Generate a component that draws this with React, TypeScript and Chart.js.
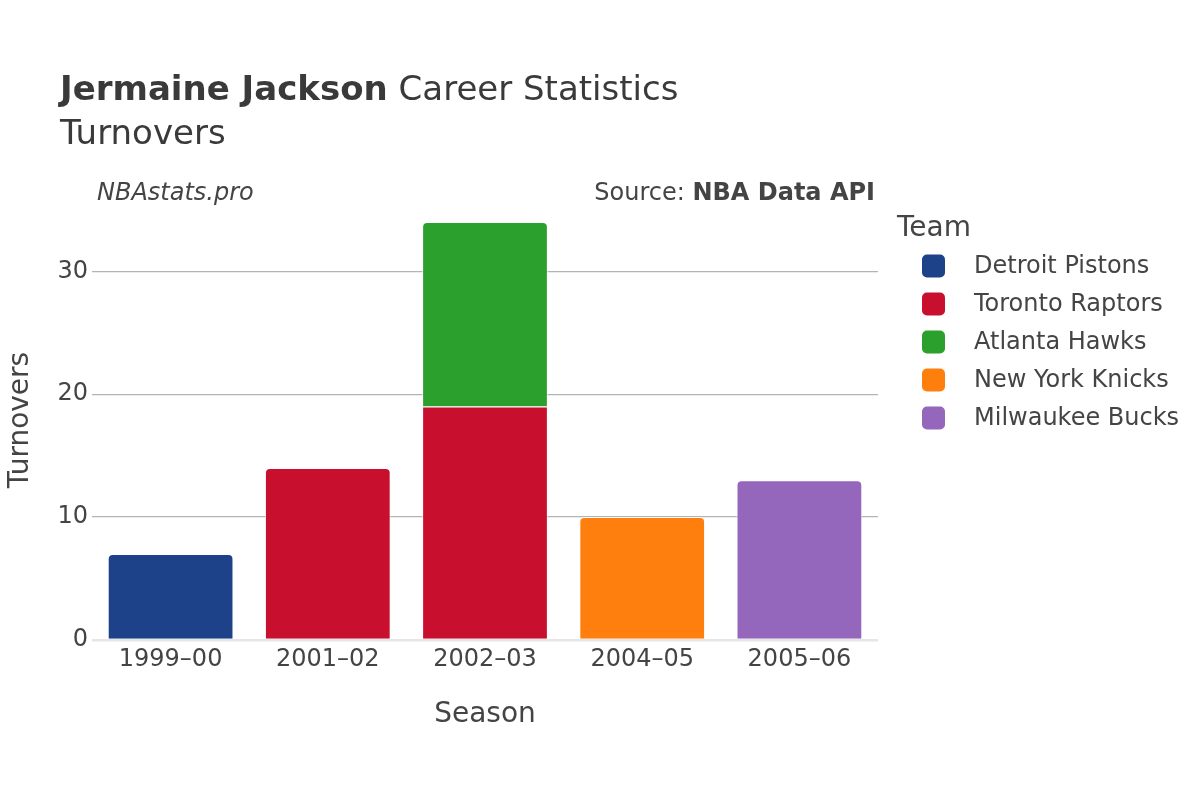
import React, { useEffect, useRef } from "react";
import { Chart, registerables } from "chart.js";

Chart.register(...registerables);

const seasons = ["1999–00", "2001–02", "2002–03", "2004–05", "2005–06"];
const teams = ["Detroit Pistons", "Toronto Raptors", "Atlanta Hawks", "New York Knicks", "Milwaukee Bucks"];
const teamColors = ["#1d428a", "#c8102e", "#2ca02c", "#ff7f0e", "#9467bd"];
const detroitPistons = [7, null, null, null, null];
const torontoRaptors = [null, 14, 19, null, null];
const atlantaHawks = [null, null, 15, null, null];
const newYorkKnicks = [null, null, null, 10, null];
const milwaukeeBucks = [null, null, null, null, 13];
const seriesValues = [detroitPistons, torontoRaptors, atlantaHawks, newYorkKnicks, milwaukeeBucks];
const yTicks = [0, 10, 20, 30];
const yMax = 35.8;

const FONT = "'DejaVu Sans', Verdana, sans-serif";
const TEXT = "#444";

const overlayPlugin = {
  id: "overlay",
  afterDraw(chart: any) {
    const ctx = chart.ctx as CanvasRenderingContext2D;
    const area = chart.chartArea;
    ctx.save();
    ctx.textBaseline = "alphabetic";
    // Title
    ctx.fillStyle = "#3a3a3a";
    ctx.textAlign = "left";
    ctx.font = `bold 34px ${FONT}`;
    const bold = "Jermaine Jackson";
    ctx.fillText(bold, 60, 100);
    const bw = ctx.measureText(bold).width;
    ctx.font = `34px ${FONT}`;
    ctx.fillText(" Career Statistics", 60 + bw, 100);
    ctx.font = `34px ${FONT}`;
    ctx.fillText("Turnovers", 60, 144);
    // Watermark / source
    ctx.fillStyle = TEXT;
    ctx.font = `italic 24px ${FONT}`;
    ctx.fillText("NBAstats.pro", 97, 200);
    ctx.textAlign = "right";
    ctx.font = `bold 24px ${FONT}`;
    const src = "NBA Data API";
    ctx.fillText(src, 875, 200);
    const sw = ctx.measureText(src).width;
    ctx.font = `24px ${FONT}`;
    ctx.fillText("Source: ", 875 - sw, 200);
    // Axis titles
    ctx.textAlign = "center";
    ctx.font = `28px ${FONT}`;
    ctx.fillText("Season", (area.left + area.right) / 2, 722);
    ctx.save();
    ctx.translate(28, (area.top + area.bottom) / 2);
    ctx.rotate(-Math.PI / 2);
    ctx.fillText("Turnovers", 0, 0);
    ctx.restore();
    // Legend
    ctx.textAlign = "left";
    ctx.font = `28px ${FONT}`;
    ctx.fillText("Team", 897, 236);
    ctx.font = `24px ${FONT}`;
    teams.forEach((t, i) => {
      const cy = 266 + i * 38;
      ctx.fillStyle = teamColors[i];
      ctx.beginPath();
      (ctx as any).roundRect(922, cy - 11.5, 23, 23, 5);
      ctx.fill();
      ctx.fillStyle = TEXT;
      ctx.textBaseline = "middle";
      ctx.fillText(t, 974, cy + 1);
      ctx.textBaseline = "alphabetic";
    });
    ctx.restore();
  },
};

export default function App() {
  const ref = useRef<HTMLCanvasElement>(null);
  useEffect(() => {
    const canvas = ref.current!;
    const datasets = teams.map((team, di) => ({
      label: team,
      data: seriesValues[di],
      backgroundColor: teamColors[di],
      borderColor: "rgba(255,255,255,0.7)",
      borderWidth: 1,
      borderSkipped: "start" as const,
      borderRadius: (c: any) => {
        const idx = c.dataIndex;
        const above = seriesValues.some((s, j) => j > di && s[idx] != null);
        return above ? 0 : { topLeft: 5, topRight: 5, bottomLeft: 0, bottomRight: 0 };
      },
      barPercentage: 0.8,
      categoryPercentage: 1,
    }));
    const chart = new Chart(canvas, {
      type: "bar",
      data: { labels: seasons, datasets },
      options: {
        animation: false,
        responsive: false,
        devicePixelRatio: 1,
        layout: { padding: { left: 0, right: 322, top: 200, bottom: 0 } },
        plugins: { legend: { display: false }, title: { display: false }, tooltip: { enabled: false } },
        scales: {
          x: {
            stacked: true,
            grid: { display: false, drawTicks: false },
            border: { display: false },
            ticks: { color: TEXT, font: { family: FONT, size: 24 }, padding: 5, maxRotation: 0 },
            afterFit: (s: any) => { s.height = 160; },
          },
          y: {
            stacked: true,
            min: 0,
            max: yMax,
            afterBuildTicks: (s: any) => { s.ticks = yTicks.map((v) => ({ value: v })); },
            grid: {
              drawTicks: false,
              color: (c: any) => (c.tick && c.tick.value === 0 ? "#e6e6e6" : "#b4b4b4"),
              lineWidth: (c: any) => (c.tick && c.tick.value === 0 ? 2.5 : 1.2),
            },
            border: { display: false },
            ticks: { color: TEXT, font: { family: FONT, size: 24 }, padding: 4 },
            afterFit: (s: any) => { s.width = 92; },
          },
        },
      },
      plugins: [overlayPlugin],
    });
    return () => chart.destroy();
  }, []);
  return (
    <div style={{ position: "fixed", left: 0, top: 0, width: 1200, height: 800, background: "#fff" }}>
      <canvas ref={ref} width={1200} height={800} style={{ width: 1200, height: 800 }} />
    </div>
  );
}
